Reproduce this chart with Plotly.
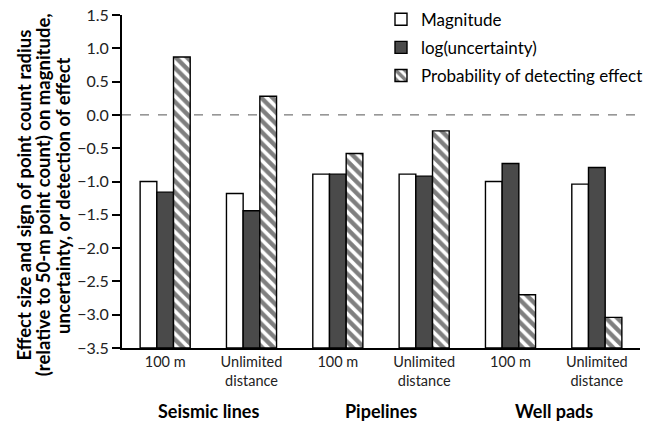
import plotly.graph_objects as go

groups = ["Seismic lines", "Pipelines", "Well pads"]
distances = ["100 m", "Unlimited<br>distance"]
tick_labels = [d for g in groups for d in distances]
magnitude = [-1.00, -1.18, -0.89, -0.89, -1.00, -1.04]
log_uncertainty = [-1.16, -1.44, -0.89, -0.92, -0.73, -0.79]
prob_detect = [0.87, 0.28, -0.58, -0.24, -2.70, -3.04]
title_lines = ["Effect size and sign of point count radius",
               "(relative to 50-m point count) on magnitude,",
               "uncertainty, or detection of effect"]
x_pos = list(range(len(tick_labels)))

Y_MIN, Y_MAX = -3.5, 1.5
FONT = "Lato, 'Open Sans', sans-serif"
W, H = 648, 423
ML, MR, MT, MB = 122, 0, 15, 75


def heights(vals):
    return [v - Y_MIN for v in vals]


fig = go.Figure()
fig.add_trace(go.Bar(x=x_pos, y=heights(magnitude), base=Y_MIN, name="Magnitude", legendgroup="a",
                     customdata=magnitude, hovertemplate="%{customdata}<extra>Magnitude</extra>",
                     marker=dict(color="white", line=dict(color="black", width=1.4))))
fig.add_trace(go.Bar(x=x_pos, y=heights(log_uncertainty), base=Y_MIN, name="log(uncertainty)", legendgroup="b",
                     customdata=log_uncertainty, hovertemplate="%{customdata}<extra>log(uncertainty)</extra>",
                     marker=dict(color="#4a4a4a", line=dict(color="black", width=1.4))))
fig.add_trace(go.Bar(x=x_pos, y=heights(prob_detect), base=Y_MIN, name="Probability of detecting effect",
                     legendgroup="c", customdata=prob_detect,
                     hovertemplate="%{customdata}<extra>Probability</extra>",
                     marker=dict(color="white", line=dict(color="black", width=1.4),
                                 pattern=dict(shape="\\", fgcolor="black", bgcolor="white",
                                              size=8, solidity=0.55))))

fig.add_shape(type="line", xref="paper", yref="y", x0=0, x1=1, y0=0, y1=0,
              line=dict(color="#555555", width=1, dash="dash"), layer="below")

for i, g in enumerate(groups):
    fig.add_annotation(x=2 * i + 0.5, xref="x", y=-0.19, yref="paper", text="<b>%s</b>" % g,
                       showarrow=False, yanchor="middle",
                       font=dict(family=FONT, size=18, color="black"))

# y-axis title, three rotated lines (tight line spacing as in the reference)
plot_w = W - ML - MR
plot_h = H - MT - MB
title_x_px = [22, 42, 62]
title_center_y_px = 195
for line, xp in zip(title_lines, title_x_px):
    fig.add_annotation(x=(xp - ML) / plot_w, xref="paper",
                       y=(H - MB - title_center_y_px) / plot_h, yref="paper",
                       text="<b>%s</b>" % line, textangle=-90, showarrow=False,
                       xanchor="center", yanchor="middle",
                       font=dict(family=FONT, size=18.5, color="black"))

fig.update_layout(
    width=W, height=H,
    margin=dict(l=ML, r=MR, t=MT, b=MB),
    paper_bgcolor="white", plot_bgcolor="white",
    barmode="group", bargap=0.42, bargroupgap=0,
    font=dict(family=FONT, size=14, color="black"),
    legend=dict(x=0.5, y=1.04, xanchor="left", yanchor="top",
                font=dict(family=FONT, size=17, color="black"),
                tracegroupgap=3, bgcolor="rgba(0,0,0,0)"),
    xaxis=dict(range=[-0.5, 5.5], tickvals=x_pos, ticktext=tick_labels,
               showline=True, linecolor="black", linewidth=2, ticks="",
               showgrid=False, zeroline=False, tickfont=dict(size=14.5, color="#222")),
    yaxis=dict(range=[Y_MIN, Y_MAX], dtick=0.5, tickformat=".1f",
               showline=True, linecolor="black", linewidth=2,
               ticks="outside", ticklen=8, tickwidth=1.5, tickcolor="black",
               showgrid=False, zeroline=False, tickfont=dict(size=16, color="#222")),
)

fig.write_html("out.html", config={"displayModeBar": False},
               post_script="document.body.style.margin='0';")
